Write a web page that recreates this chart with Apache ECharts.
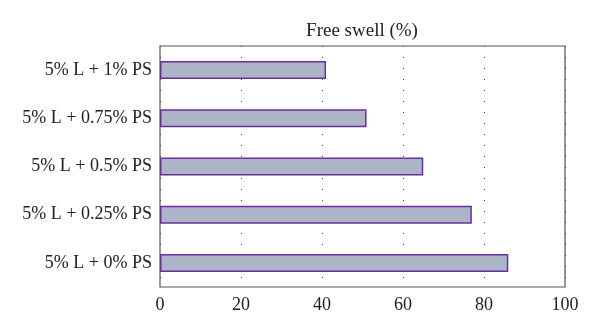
<!DOCTYPE html>
<html>
<head>
<meta charset="utf-8">
<script src="https://cdn.jsdelivr.net/npm/echarts@6/dist/echarts.min.js"></script>
<style>
  html, body { margin: 0; padding: 0; background: #fff; }
  #chart { width: 600px; height: 330px; }
</style>
</head>
<body>
<div id="chart"></div>
<script>
// Mix designations, listed top to bottom
const categories = ['5% L + 1% PS', '5% L + 0.75% PS', '5% L + 0.5% PS', '5% L + 0.25% PS', '5% L + 0% PS'];
// Free swell of each mix (%)
const freeSwell = [41, 51, 65, 77, 86];
const axisTitle = 'Free swell (%)';
const xTicks = [0, 20, 40, 60, 80, 100];

const serif = '"Liberation Serif", "DejaVu Serif", serif';
const chart = echarts.init(document.getElementById('chart'));

chart.setOption({
  animation: false,
  backgroundColor: '#ffffff',
  grid: {
    left: 160, right: 35, top: 46, bottom: 43,
    show: true, borderColor: '#555', borderWidth: 1.2, backgroundColor: 'transparent'
  },
  title: {
    text: axisTitle,
    left: 357, top: 17, textAlign: 'center',
    textStyle: { fontFamily: serif, fontSize: 19, fontWeight: 'normal', color: '#222' }
  },
  xAxis: {
    type: 'value',
    min: xTicks[0], max: xTicks[xTicks.length - 1], interval: 20,
    axisLine: { show: false },
    axisTick: { show: false },
    axisLabel: { fontFamily: serif, fontSize: 18, color: '#222', margin: 9 },
    splitLine: { show: true, lineStyle: { color: '#444', width: 1, type: [1, 10] } }
  },
  yAxis: {
    type: 'category',
    data: categories,
    inverse: true,
    axisLine: { show: false },
    axisTick: { show: false },
    axisLabel: { fontFamily: serif, fontSize: 18, color: '#222', margin: 8 }
  },
  series: [{
    type: 'bar',
    data: freeSwell,
    barWidth: 18,
    itemStyle: { color: '#abb5c7', borderColor: '#6b2f9c', borderWidth: 1.5 }
  }]
});
</script>
</body>
</html>
